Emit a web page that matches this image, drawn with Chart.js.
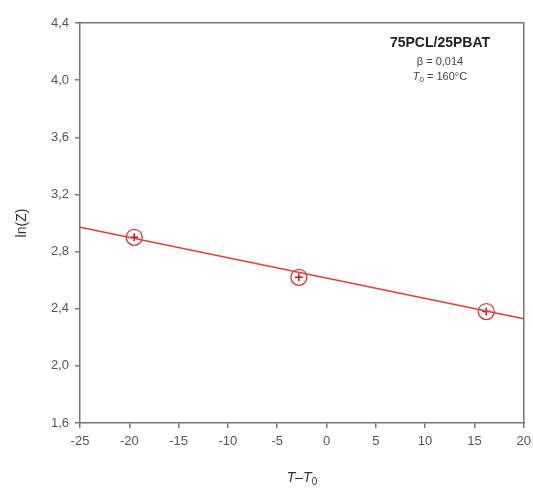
<!DOCTYPE html>
<html>
<head>
<meta charset="utf-8">
<script src="https://cdn.jsdelivr.net/npm/chart.js@4.4.0/dist/chart.umd.min.js"></script>
<style>
  html, body { margin: 0; padding: 0; background: #fff; }
  #wrap { width: 533px; height: 489px; }
</style>
</head>
<body>
<div id="wrap"><canvas id="c" width="533" height="489"></canvas></div>
<script>
  // measured points (T - T0, ln Z)
  const tDiff = [-19.5, -2.8, 16.2];
  const lnZ = [2.90, 2.62, 2.38];
  // fitted line endpoints
  const fitX = [-25, 20];
  const fitY = [2.97, 2.33];
  const yTicks = [1.6, 2.0, 2.4, 2.8, 3.2, 3.6, 4.0, 4.4];
  const xTicks = [-25, -20, -15, -10, -5, 0, 5, 10, 15, 20];

  const points = tDiff.map((x, i) => ({ x: x, y: lnZ[i] }));
  const fitLine = fitX.map((x, i) => ({ x: x, y: fitY[i] }));

  const FONT = "'Liberation Sans', Arial, sans-serif";

  // legend text in the upper right corner + x axis title
  const notePlugin = {
    id: "note",
    afterDraw(chart) {
      const ctx = chart.ctx;
      ctx.save();
      ctx.fillStyle = "#222";
      ctx.textAlign = "center";
      ctx.textBaseline = "middle";
      ctx.font = "bold 14px " + FONT;
      ctx.fillText("75PCL/25PBAT", 440, 43);
      ctx.font = "11px " + FONT;
      ctx.fillStyle = "#444";
      ctx.fillText("\u03B2 = 0,014", 440, 62);
      // T0 = 160°C with italic T and subscript 0
      const parts = [
        { t: "T", f: "italic 11px " + FONT, dy: 0 },
        { t: "0", f: "8px " + FONT, dy: 3 },
        { t: " = 160\u00B0C", f: "11px " + FONT, dy: 0 }
      ];
      ctx.textAlign = "left";
      let w = 0;
      parts.forEach(p => { ctx.font = p.f; w += ctx.measureText(p.t).width; });
      let x = 440 - w / 2;
      parts.forEach(p => {
        ctx.font = p.f;
        ctx.fillText(p.t, x, 77 + p.dy);
        x += ctx.measureText(p.t).width;
      });

      // x axis title: T–T0
      const xt = [
        { t: "T", f: "italic 14px " + FONT, dy: 0 },
        { t: "\u2013", f: "14px " + FONT, dy: 0 },
        { t: "T", f: "italic 14px " + FONT, dy: 0 },
        { t: "0", f: "10px " + FONT, dy: 4 }
      ];
      w = 0;
      xt.forEach(p => { ctx.font = p.f; w += ctx.measureText(p.t).width; });
      x = 302 - w / 2;
      ctx.fillStyle = "#333";
      xt.forEach(p => {
        ctx.font = p.f;
        ctx.fillText(p.t, x, 478 + p.dy);
        x += ctx.measureText(p.t).width;
      });
      ctx.restore();
    }
  };

  new Chart(document.getElementById("c"), {
    type: "scatter",
    data: {
      datasets: [
        {
          type: "line",
          data: fitLine,
          borderColor: "#e0403a",
          borderWidth: 1.6,
          pointRadius: 0,
          fill: false
        },
        {
          data: points,
          pointStyle: "circle",
          pointRadius: 8,
          pointBorderWidth: 1.3,
          pointBorderColor: "#d83a3a",
          pointBackgroundColor: "rgba(255,255,255,0)"
        },
        {
          data: points,
          pointStyle: "cross",
          pointRadius: 4,
          pointBorderWidth: 1.5,
          pointBorderColor: "#b02020"
        }
      ]
    },
    options: {
      responsive: false,
      animation: false,
      layout: { padding: { top: 23, right: 8, left: 0, bottom: 0 } },
      plugins: { legend: { display: false }, tooltip: { enabled: false } },
      scales: {
        x: {
          type: "linear",
          min: -25,
          max: 20,
          afterBuildTicks: s => { s.ticks = xTicks.map(v => ({ value: v })); },
          afterFit: s => { s.height = 66; s.paddingLeft = 0; s.paddingRight = 0; },
          grid: { drawOnChartArea: false, tickLength: 5, color: "#777", lineWidth: 1.5 },
          border: { color: "#777", width: 1.5 },
          ticks: {
            color: "#555",
            font: { family: FONT, size: 13 },
            padding: 6,
            maxRotation: 0
          }
        },
        y: {
          min: 1.6,
          max: 4.4,
          afterBuildTicks: s => { s.ticks = yTicks.map(v => ({ value: v })); },
          afterFit: s => { s.width = 80; s.paddingTop = 0; s.paddingBottom = 0; },
          grid: { drawOnChartArea: false, tickLength: 5, color: "#777", lineWidth: 1.5 },
          border: { color: "#777", width: 1.5 },
          ticks: {
            color: "#555",
            font: { family: FONT, size: 13 },
            padding: 6,
            callback: v => v.toFixed(1).replace(".", ",")
          },
          title: {
            display: true,
            text: "ln(Z)",
            color: "#333",
            font: { family: FONT, size: 14 },
            padding: { top: 14, bottom: 4 }
          }
        },
        x2: {
          type: "linear", position: "top", min: -25, max: 20,
          ticks: { display: false }, grid: { display: false },
          border: { color: "#777", width: 1.5 },
          afterFit: s => { s.height = 0; }
        },
        y2: {
          type: "linear", position: "right", min: 1.6, max: 4.4,
          ticks: { display: false }, grid: { display: false },
          border: { color: "#777", width: 1.5 },
          afterFit: s => { s.width = 0; }
        }
      }
    },
    plugins: [notePlugin]
  });
</script>
</body>
</html>
